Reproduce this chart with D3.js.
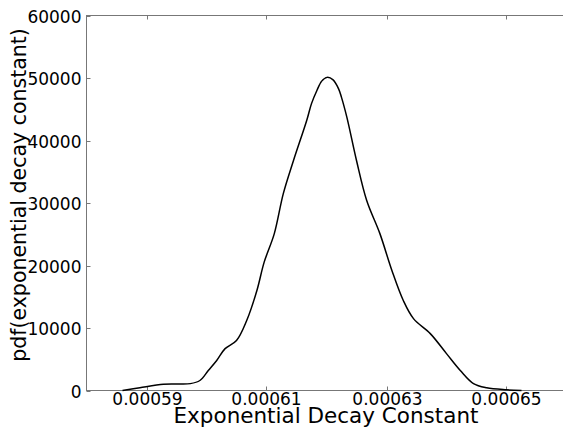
<!DOCTYPE html>
<html>
<head>
<meta charset="utf-8">
<script src="https://cdn.jsdelivr.net/npm/d3@7"></script>
<style>
    body { margin: 0; background: #fff; }
    text { font-family: "DejaVu Sans", sans-serif; fill: #000; }
</style>
</head>
<body>
<svg id="chart" width="563" height="429"></svg>
<script>
// decay constant values (x) and density (y)
var decayConst = [0.0005860, 0.0005889, 0.0005928, 0.0005948, 0.0005973, 0.0005989, 0.0006003,
    0.0006017, 0.0006031, 0.0006050, 0.0006067, 0.0006084, 0.0006096, 0.0006113, 0.0006128,
    0.0006145, 0.0006167, 0.0006175, 0.0006184, 0.0006192, 0.0006201, 0.0006211, 0.0006220,
    0.0006225, 0.0006234, 0.0006250, 0.0006267,
    0.0006289, 0.0006309, 0.0006328, 0.0006345, 0.0006373, 0.0006400, 0.0006423, 0.0006445,
    0.0006467, 0.0006500, 0.0006525];
var density = [0, 450, 1000, 1050, 1100, 1600, 3200,
    4800, 6700, 8000, 11200, 16000, 20500, 25100, 31500,
    36800, 43200, 45900, 48000, 49500, 50100, 49700, 48300,
    46900, 43700, 36800, 30400,
    25100, 19200, 14400, 11500, 9100, 5900, 3200, 1100,
    430, 110, 0];

var xTicks = [0.00059, 0.00061, 0.00063, 0.00065];
var yTicks = [0, 10000, 20000, 30000, 40000, 50000, 60000];

var svg = d3.select("#chart");
var plotLeft = 86.5, plotRight = 566.5, plotTop = 15.5, plotBottom = 390.5;

var x = d3.scaleLinear().domain([0.00058, 0.00066]).range([plotLeft, plotRight]);
var y = d3.scaleLinear().domain([0, 60000]).range([plotBottom, plotTop]);

var spine = "#777";

// frame (right edge falls outside the picture)
svg.append("rect")
    .attr("x", plotLeft).attr("y", plotTop)
    .attr("width", plotRight - plotLeft).attr("height", plotBottom - plotTop)
    .attr("fill", "none").attr("stroke", spine).attr("stroke-width", 1);

// x ticks, inward on bottom and top
xTicks.forEach(function (t) {
    var px = Math.round(x(t)) + 0.5;
    svg.append("line").attr("x1", px).attr("x2", px).attr("y1", plotBottom).attr("y2", plotBottom - 4)
        .attr("stroke", spine);
    svg.append("line").attr("x1", px).attr("x2", px).attr("y1", plotTop).attr("y2", plotTop + 4)
        .attr("stroke", spine);
    svg.append("text")
        .attr("x", px).attr("y", plotBottom + 14)
        .attr("text-anchor", "middle")
        .attr("font-size", "17px")
        .text(d3.format(".5f")(t));
});

// y ticks, inward on left
yTicks.forEach(function (t) {
    var py = Math.round(y(t)) + 0.5;
    svg.append("line").attr("x1", plotLeft).attr("x2", plotLeft + 4).attr("y1", py).attr("y2", py)
        .attr("stroke", spine);
    svg.append("text")
        .attr("x", plotLeft - 5).attr("y", py)
        .attr("dy", "0.36em")
        .attr("text-anchor", "end")
        .attr("font-size", "17px")
        .text(t);
});

var pts = decayConst.map(function (d, i) { return [d, density[i]]; });

var line = d3.line()
    .x(function (d) { return x(d[0]); })
    .y(function (d) { return y(d[1]); })
    .curve(d3.curveCatmullRom.alpha(0.5));

svg.append("path")
    .datum(pts)
    .attr("d", line)
    .attr("fill", "none")
    .attr("stroke", "#000")
    .attr("stroke-width", 1.5);

// axis titles
svg.append("text")
    .attr("x", 326).attr("y", 423)
    .attr("text-anchor", "middle")
    .attr("font-size", "21.5px")
    .text("Exponential Decay Constant");

svg.append("text")
    .attr("transform", "translate(26,195) rotate(-90)")
    .attr("text-anchor", "middle")
    .attr("font-size", "20.5px")
    .text("pdf(exponential decay constant)");
</script>
</body>
</html>
